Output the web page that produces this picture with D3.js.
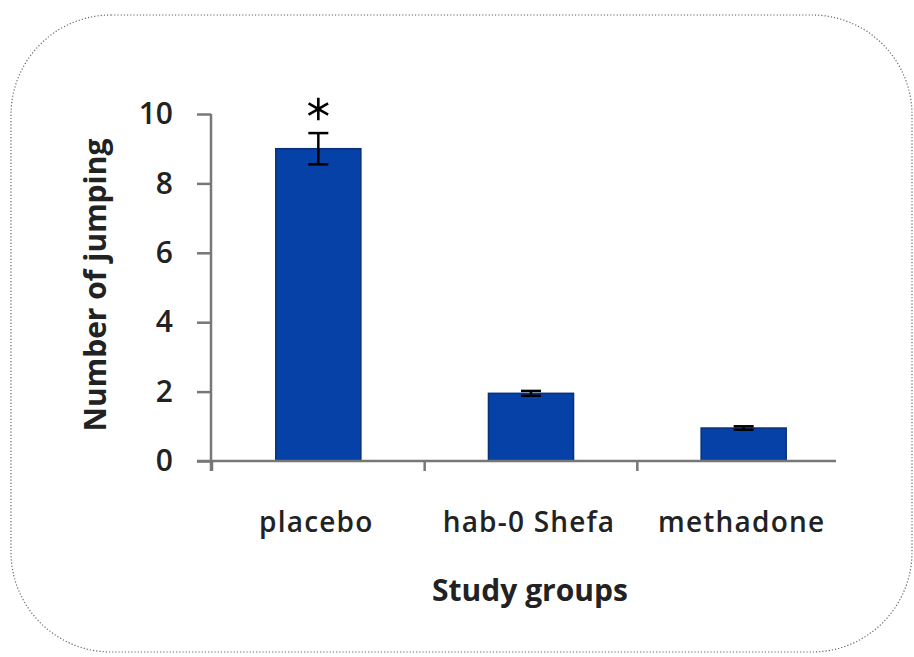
<!DOCTYPE html>
<html>
<head>
<meta charset="utf-8">
<script src="https://cdn.jsdelivr.net/npm/d3@7"></script>
<style>
  body { margin: 0; background: #fff; }
  text { font-family: "Open Sans", "Noto Sans", sans-serif; fill: #222; }
</style>
</head>
<body>
<svg id="drawing_region"></svg>
<script>
var groups = ['placebo', 'hab-0 Shefa', 'methadone'];
var jumps = [9, 1.95, 0.95];
var errors = [0.45, 0.07, 0.05];
var marked = [true, false, false];
var yticks = [0, 2, 4, 6, 8, 10];

var width = 914;
var height = 657;

var svg = d3.select('#drawing_region')
    .attr('width', width)
    .attr('height', height);

// dotted rounded frame
svg.append('rect')
    .attr('x', 11).attr('y', 15)
    .attr('width', 901).attr('height', 637)
    .attr('rx', 100).attr('ry', 100)
    .attr('fill', 'none')
    .attr('stroke', '#666')
    .attr('stroke-width', 1.2)
    .attr('stroke-dasharray', '1.2,2');

const xscale = d3.scaleBand()
      .domain(groups)
      .range([212, 850])
      .paddingInner(0.6)
      .paddingOuter(0.3);

const yscale = d3.scaleLinear()
      .domain([0, 10])
      .range([461, 114]);

// bars
svg.selectAll('rect.bar')
    .data(groups)
    .join('rect')
    .attr('class', 'bar')
    .attr('x', d => xscale(d))
    .attr('width', xscale.bandwidth())
    .attr('y', (d, i) => yscale(jumps[i]))
    .attr('height', (d, i) => yscale(0) - yscale(jumps[i]))
    .attr('fill', '#0541a6')
    .attr('stroke', '#0a2f78')
    .attr('stroke-width', 1.5);

// axes
const yaxis = d3.axisLeft(yscale)
      .tickValues(yticks)
      .tickSize(14)
      .tickPadding(24)
      .tickSizeOuter(0);

const yaxis_group = svg.append('g')
      .attr('transform', 'translate(211, 0)')
      .call(yaxis);
yaxis_group.select('.domain').remove();
yaxis_group.selectAll('line').attr('stroke', '#777').attr('stroke-width', 2.5);
yaxis_group.selectAll('text')
    .style('font-family', '"Open Sans", sans-serif')
    .attr('font-size', 30)
    .attr('font-weight', 600)
    .attr('fill', '#222');

svg.append('line')
    .attr('x1', 211).attr('x2', 211)
    .attr('y1', yscale(10)).attr('y2', yscale(0) + 10)
    .attr('stroke', '#777').attr('stroke-width', 2.5);

const xbounds = [0, 1, 2].map(k => 212 + xscale.step() * k);
svg.selectAll('line.xtick')
    .data(xbounds)
    .join('line')
    .attr('class', 'xtick')
    .attr('x1', d => d).attr('x2', d => d)
    .attr('y1', yscale(0)).attr('y2', yscale(0) + 10)
    .attr('stroke', '#777').attr('stroke-width', 2.5);

svg.append('line')
    .attr('x1', 197).attr('x2', 836)
    .attr('y1', yscale(0)).attr('y2', yscale(0))
    .attr('stroke', '#777').attr('stroke-width', 2.5);

svg.selectAll('text.xlabel')
    .data(groups)
    .join('text')
    .attr('class', 'xlabel')
    .attr('x', d => xscale(d) + xscale.bandwidth() / 2 - 2)
    .attr('y', 532)
    .attr('text-anchor', 'middle')
    .attr('font-size', 28)
    .attr('font-weight', 600)
    .style('letter-spacing', '1.2px')
    .text(d => d);

// error bars
const err = svg.append('g').attr('stroke', '#000').attr('stroke-width', 2.5);
groups.forEach((g, i) => {
  const cx = xscale(g) + xscale.bandwidth() / 2;
  const top = yscale(jumps[i] + errors[i]);
  const bot = yscale(jumps[i] - errors[i]);
  err.append('line').attr('x1', cx).attr('x2', cx).attr('y1', top).attr('y2', bot);
  err.append('line').attr('x1', cx - 10).attr('x2', cx + 10).attr('y1', top).attr('y2', top);
  err.append('line').attr('x1', cx - 10).attr('x2', cx + 10).attr('y1', bot).attr('y2', bot);
  if (marked[i]) {
    svg.append('path')
      .attr('d', d3.symbol(d3.symbolAsterisk, 360)())
      .attr('transform', `translate(${cx}, ${top - 24})`)
      .attr('stroke', '#000')
      .attr('stroke-width', 2.6)
      .attr('fill', 'none');
  }
});

// axis titles
svg.append('text')
    .attr('transform', 'translate(106, 285) rotate(-90)')
    .attr('text-anchor', 'middle')
    .attr('font-size', 30)
    .attr('font-weight', 'bold')
    .text('Number of jumping');

svg.append('text')
    .attr('x', 530)
    .attr('y', 601)
    .attr('text-anchor', 'middle')
    .attr('font-size', 30)
    .attr('font-weight', 'bold')
    .text('Study groups');
</script>
</body>
</html>
